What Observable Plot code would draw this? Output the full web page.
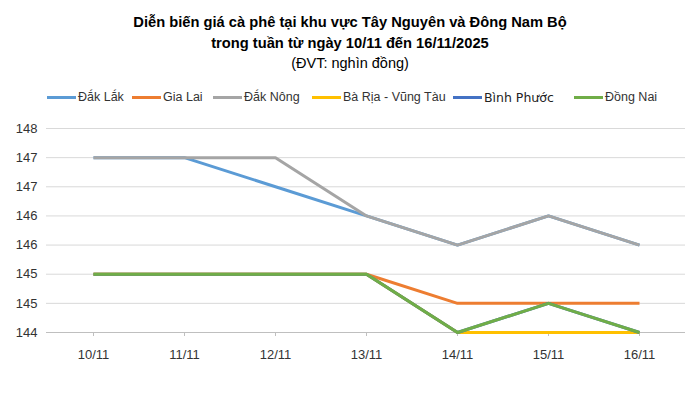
<!DOCTYPE html>
<html>
<head>
<meta charset="utf-8">
<script src="https://cdn.jsdelivr.net/npm/d3@7"></script>
<script src="https://cdn.jsdelivr.net/npm/@observablehq/plot@0.6"></script>
<style>
  html, body { margin: 0; padding: 0; background: #fff; }
  #wrap { position: relative; width: 700px; height: 398px; font-family: "Liberation Sans", Arial, sans-serif; color: #000; }
  #title { position: absolute; top: 12px; left: 0; width: 700px; text-align: center; font-weight: bold; font-size: 14.7px; line-height: 20.5px; }
  #sub { position: absolute; top: 53px; left: 0; width: 700px; text-align: center; font-size: 14.5px; line-height: 20px; }
  #legend { position: absolute; top: 88px; left: 0; width: 700px; height: 18px; }
  .item { position: absolute; top: 0; height: 18px; display: flex; align-items: center; font-size: 12.5px; color: #333; }
  .sw { width: 29px; height: 3px; margin-right: 2px; }
  #chart { position: absolute; top: 110px; left: 0; }
</style>
</head>
<body>
<div id="wrap">
  <div id="title">Diễn biến giá cà phê tại khu vực Tây Nguyên và Đông Nam Bộ<br>trong tuần từ ngày 10/11 đến 16/11/2025</div>
  <div id="sub">(ĐVT: nghìn đồng)</div>
  <div id="legend"></div>
  <div id="chart"></div>
</div>
<script>
const dates = ["10/11", "11/11", "12/11", "13/11", "14/11", "15/11", "16/11"];
const seriesNames = ["Đắk Lắk", "Gia Lai", "Đắk Nông", "Bà Rịa - Vũng Tàu", "Bình Phước", "Đồng Nai"];
const seriesColors = ["#5B9BD5", "#ED7D31", "#A5A5A5", "#FFC000", "#4472C4", "#70AD47"];
const dakLak    = [147, 147, 146.5, 146, 145.5, 146, 145.5];
const giaLai    = [145, 145, 145, 145, 144.5, 144.5, 144.5];
const dakNong   = [147, 147, 147, 146, 145.5, 146, 145.5];
const baRiaVT   = [145, 145, 145, 145, 144, 144, 144];
const binhPhuoc = [145, 145, 145, 145, 144, 144.5, 144];
const dongNai   = [145, 145, 145, 145, 144, 144.5, 144];
const yTicks = [144, 144.5, 145, 145.5, 146, 146.5, 147, 147.5];

const seriesValues = [dakLak, giaLai, dakNong, baRiaVT, binhPhuoc, dongNai];
const rows = [];
seriesNames.forEach((name, i) => {
  dates.forEach((d, j) => rows.push({ series: name, date: d, value: seriesValues[i][j] }));
});

// legend
const legendX = [47, 132, 213, 312, 453, 574];
const legend = document.getElementById("legend");
seriesNames.forEach((name, i) => {
  const it = document.createElement("div");
  it.className = "item";
  it.style.left = legendX[i] + "px";
  if (name === "Bình Phước") { it.style.fontFamily = "'DejaVu Sans', sans-serif"; it.style.fontSize = "12.5px"; it.style.color = "#222"; }
  const sw = document.createElement("div");
  sw.className = "sw";
  sw.style.background = seriesColors[i];
  it.appendChild(sw);
  const tx = document.createElement("span");
  tx.textContent = name;
  it.appendChild(tx);
  legend.appendChild(it);
});

const chart = Plot.plot({
  width: 700,
  height: 288,
  marginLeft: 46,
  marginRight: 15,
  marginTop: 18,
  marginBottom: 66,
  style: { fontFamily: "'Liberation Sans', Arial, sans-serif", fontSize: "13px", color: "#333", background: "transparent" },
  x: { type: "point", domain: dates, padding: 0.5, label: null },
  y: { domain: [144, 147.5], label: null },
  color: { domain: seriesNames, range: seriesColors },
  marks: [
    Plot.gridY(yTicks, { stroke: "#d9d9d9", strokeOpacity: 1, strokeWidth: 1 }),
    Plot.ruleY([144], { stroke: "#bfbfbf", strokeWidth: 1 }),
    Plot.axisY(yTicks, { tickSize: 0, tickPadding: 9, tickFormat: d => String(Math.round(d)), fontSize: 13 }),
    Plot.axisX(dates, { tickSize: 4, stroke: "#bfbfbf", tickPadding: 13, fontSize: 13 }),
    Plot.line(rows, { x: "date", y: "value", z: "series", stroke: "series", strokeWidth: 3, strokeLinejoin: "round", strokeLinecap: "butt" })
  ]
});
document.getElementById("chart").appendChild(chart);
</script>
</body>
</html>
